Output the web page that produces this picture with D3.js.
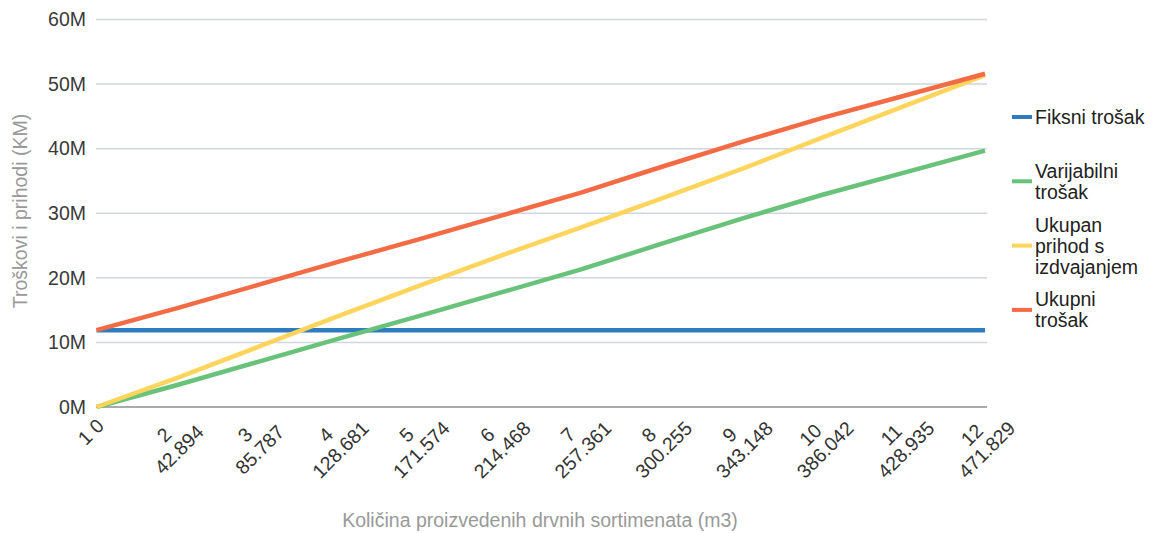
<!DOCTYPE html>
<html>
<head>
<meta charset="utf-8">
<script src="https://cdn.jsdelivr.net/npm/d3@7"></script>
<style>
    body { margin: 0; background: #fff; }
    text { font-family: "Liberation Sans", Arial, sans-serif; }
</style>
</head>
<body>
<div id="svgcontainer"></div>
<script>
// x categories: "period quantity(m3)"
const categories = ["1 0", "2 42.894", "3 85.787", "4 128.681", "5 171.574", "6 214.468",
    "7 257.361", "8 300.255", "9 343.148", "10 386.042", "11 428.935", "12 471.829"]

// values in KM
const fixedCost = [11.9e6, 11.9e6, 11.9e6, 11.9e6, 11.9e6, 11.9e6, 11.9e6, 11.9e6, 11.9e6, 11.9e6, 11.9e6, 11.9e6]
const variableCost = [0, 3.4e6, 7.0e6, 10.6e6, 14.1e6, 17.7e6, 21.3e6, 25.3e6, 29.2e6, 32.9e6, 36.3e6, 39.7e6]
const revenue = [0, 4.5e6, 9.3e6, 14.1e6, 18.8e6, 23.4e6, 27.8e6, 32.3e6, 36.9e6, 41.8e6, 46.6e6, 51.4e6]
const totalCost = [11.9e6, 15.3e6, 18.9e6, 22.5e6, 26.0e6, 29.6e6, 33.2e6, 37.2e6, 41.1e6, 44.8e6, 48.2e6, 51.6e6]

const seriesNames = ["Fiksni trošak", "Varijabilni trošak", "Ukupan prihod s izdvajanjem", "Ukupni trošak"]
const seriesValues = [fixedCost, variableCost, revenue, totalCost]
const seriesColors = ["#2e7bbf", "#68c27a", "#fdd45c", "#f36b45"]

const yTicks = [0, 10e6, 20e6, 30e6, 40e6, 50e6, 60e6]

const WIDTH = 1153
const HEIGHT = 533
const FONT = 19.5

const svg = d3.select("#svgcontainer")
    .append("svg")
    .attr("width", WIDTH)
    .attr("height", HEIGHT)

let x = d3.scalePoint()
    .domain(categories)
    .range([96.5, 985])

let y = d3.scaleLinear()
    .domain([0, 60e6])
    .range([407, 19.5])

// gridlines
svg.append("g")
    .selectAll("line")
    .data(yTicks.filter(t => t > 0))
    .join("line")
        .attr("x1", 96)
        .attr("x2", 987)
        .attr("y1", d => y(d))
        .attr("y2", d => y(d))
        .attr("stroke", "#cfd6df")
        .attr("stroke-width", 1.5)

// baseline
svg.append("line")
    .attr("x1", 96)
    .attr("x2", 987)
    .attr("y1", y(0))
    .attr("y2", y(0))
    .attr("stroke", "#aaaaaa")
    .attr("stroke-width", 2)

// y axis labels
let yAxis = d3.axisLeft(y)
    .tickValues(yTicks)
    .tickSize(0)
    .tickPadding(0)
    .tickFormat(d => (d / 1e6) + "M")

svg.append("g")
    .attr("transform", "translate(86,0)")
    .call(yAxis)
    .call(g => g.select(".domain").remove())
    .call(g => g.selectAll("text")
        .attr("font-size", FONT)
        .attr("font-family", null)
        .attr("fill", "#3a3a3a"))

// series lines
let line = d3.line()
    .x((d, i) => x(categories[i]))
    .y(d => y(d))

svg.append("g")
    .selectAll("path")
    .data(seriesValues)
    .join("path")
        .attr("d", line)
        .attr("fill", "none")
        .attr("stroke", (d, i) => seriesColors[i])
        .attr("stroke-width", 4.5)
        .attr("stroke-linejoin", "round")

// splits a label into lines no wider than maxWidth
function wrap(label, maxWidth) {
    let probe = svg.append("text").attr("font-size", FONT)
    let words = label.split(" ")
    let lines = []
    let current = ""
    words.forEach(w => {
        let attempt = current ? current + " " + w : w
        probe.text(attempt)
        if (current && probe.node().getComputedTextLength() > maxWidth) {
            lines.push(current)
            current = w
        } else {
            current = attempt
        }
    })
    lines.push(current)
    probe.remove()
    return lines
}

// x tick labels, rotated and wrapped
const LINE_H = 21
let xLabels = svg.append("g")
categories.forEach(c => {
    let lines = wrap(c, 40)
    let n = lines.length
    let cx = x(c) - 5.5
    let cy = 432 + (n - 1) * 10.5
    let t = xLabels.append("text")
        .attr("transform", `translate(${cx} ${cy}) rotate(-45)`)
        .attr("text-anchor", "middle")
        .attr("font-size", FONT)
        .attr("fill", "#333")
    lines.forEach((l, i) => {
        t.append("tspan")
            .attr("x", 0)
            .attr("y", (i - (n - 1) / 2) * LINE_H + 6.5)
            .text(l)
    })
})

// axis titles
svg.append("text")
    .attr("x", 540)
    .attr("y", 527)
    .attr("text-anchor", "middle")
    .attr("font-size", FONT)
    .attr("fill", "#999")
    .text("Količina proizvedenih drvnih sortimenata (m3)")

svg.append("text")
    .attr("transform", "translate(27 211) rotate(-90)")
    .attr("text-anchor", "middle")
    .attr("font-size", FONT)
    .attr("fill", "#999")
    .text("Troškovi i prihodi (KM)")

// legend
let legend = svg.append("g")
seriesNames.forEach((name, i) => {
    let cy = 117 + i * 64.3
    let lines = wrap(name, 114)
    let n = lines.length
    legend.append("line")
        .attr("x1", 1012)
        .attr("x2", 1032)
        .attr("y1", cy)
        .attr("y2", cy)
        .attr("stroke", seriesColors[i])
        .attr("stroke-width", 4)
    let t = legend.append("text")
        .attr("font-size", FONT)
        .attr("fill", "#222")
    lines.forEach((l, j) => {
        t.append("tspan")
            .attr("x", 1035)
            .attr("y", cy + (j - (n - 1) / 2) * LINE_H + 7)
            .text(l)
    })
})
</script>
</body>
</html>
